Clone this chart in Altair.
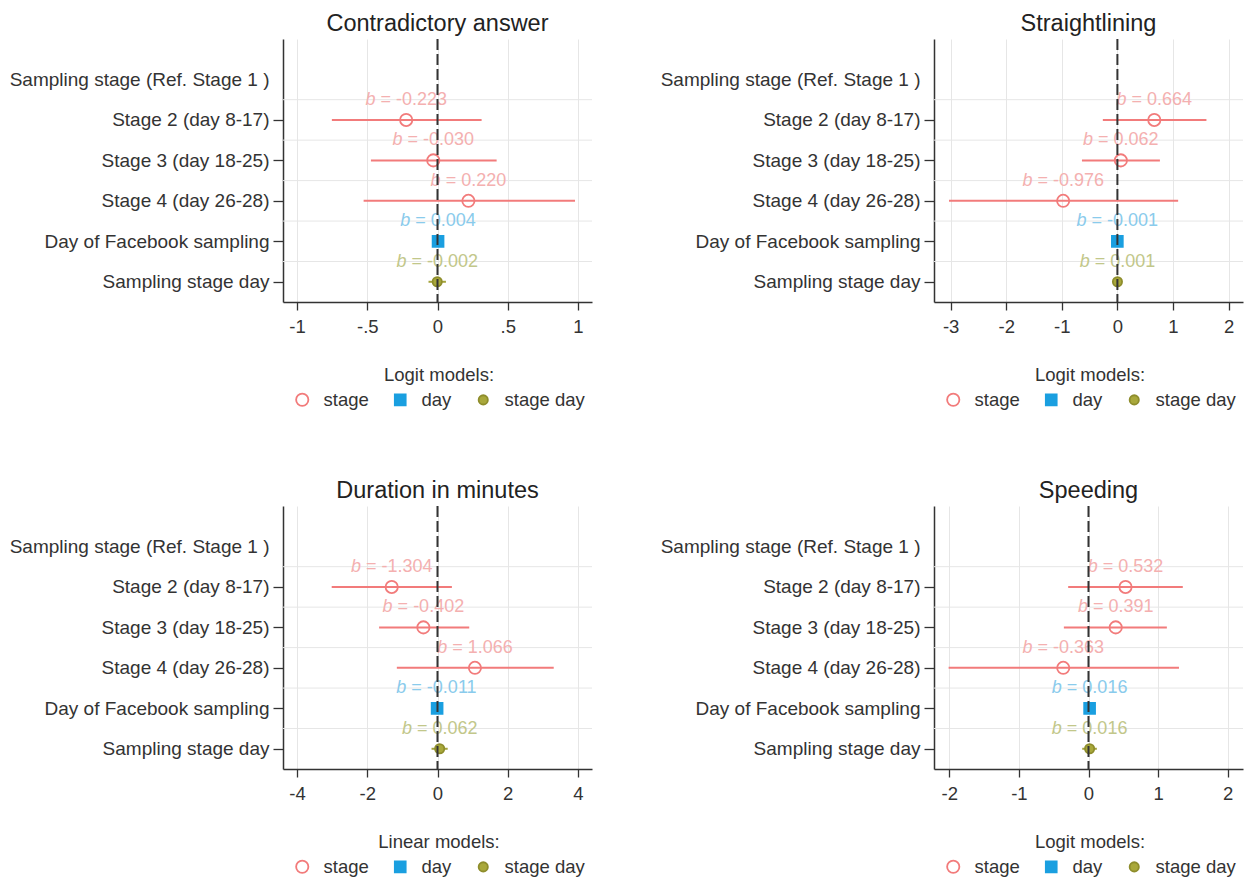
import altair as alt
import pandas as pd

FONT = "Liberation Sans"

panel_titles = ["Contradictory answer", "Straightlining", "Duration in minutes", "Speeding"]
legend_titles = ["Logit models:", "Logit models:", "Linear models:", "Logit models:"]
row_labels = ["Sampling stage (Ref. Stage 1 )", "Stage 2 (day 8-17)", "Stage 3 (day 18-25)",
              "Stage 4 (day 26-28)", "Day of Facebook sampling", "Sampling stage day"]
series_names = ["stage", "day", "stage day"]
coef_rows = [2, 3, 4, 5, 6]
coef_series = ["stage", "stage", "stage", "day", "stage day"]

b_contra = [-0.223, -0.030, 0.220, 0.004, -0.002]
lo_contra = [-0.752, -0.474, -0.526, -0.006, -0.064]
hi_contra = [0.314, 0.421, 0.979, 0.014, 0.060]

b_straight = [0.664, 0.062, -0.976, -0.001, 0.001]
lo_straight = [-0.262, -0.638, -3.030, -0.020, -0.030]
hi_straight = [1.602, 0.765, 1.093, 0.018, 0.032]

b_duration = [-1.304, -0.402, 1.066, -0.011, 0.062]
lo_duration = [-3.013, -1.663, -1.158, -0.060, -0.170]
hi_duration = [0.410, 0.904, 3.310, 0.040, 0.290]

b_speed = [0.532, 0.391, -0.363, 0.016, 0.016]
lo_speed = [-0.292, -0.354, -2.010, -0.004, -0.090]
hi_speed = [1.355, 1.126, 1.300, 0.036, 0.120]

x_ticks = [[-1, -0.5, 0, 0.5, 1], [-3, -2, -1, 0, 1, 2], [-4, -2, 0, 2, 4], [-2, -1, 0, 1, 2]]
x_domains = [[-1.1, 1.1], [-3.3, 2.26], [-4.4, 4.4], [-2.22, 2.22]]
grid_rows = [1.5, 2.5, 3.5, 4.5, 5.5]

ci_colors = {"stage": "#F27B7B", "day": "#1A9FE0", "stage day": "#A3A23A"}
text_colors = {"stage": "#F4B0B0", "day": "#8ACBEC", "stage day": "#C2C78A"}

W, H = 309, 263
TXT = "#333333"
BFS = 18  # coefficient label font size
# Liberation Sans advances (em): "b = -0.000" -> 4.531, "b = 0.000" -> 4.198, "b " -> 0.834
HALF_NEG = -4.531 * BFS / 2
HALF_POS = -4.198 * BFS / 2
B_ADV = 0.834 * BFS


def panel(i, b, lo, hi):
    df = pd.DataFrame({"row": coef_rows, "series": coef_series, "b": b, "lo": lo, "hi": hi})
    df["rest"] = [f"= {v:.3f}" for v in b]

    xscale = alt.Scale(domain=x_domains[i], nice=False, zero=False)
    yscale = alt.Scale(domain=[0, 6.5], reverse=True, nice=False, zero=False)

    label_expr = "[" + ",".join("'" + s + "'" for s in row_labels) + "][datum.value - 1]"
    yaxis = alt.Axis(values=[1, 2, 3, 4, 5, 6], labelExpr=label_expr, grid=False, title=None,
                     tickSize=10, labelPadding=4, labelFontSize=19, labelColor=TXT, labelFont=FONT,
                     domainColor=TXT, domainWidth=1.5, tickWidth=1.3,
                     tickColor={"condition": {"test": "datum.value == 1", "value": "transparent"},
                                "value": TXT},
                     minExtent=275, maxExtent=275, labelLimit=400)
    xaxis = alt.Axis(values=x_ticks[i],
                     labelExpr="datum.value == 0.5 ? '.5' : datum.value == -0.5 ? '-.5' : '' + datum.value",
                     grid=True, gridColor="#E6E6E6", gridWidth=1, title=None, tickSize=8,
                     labelPadding=7, labelFontSize=18.5, labelColor=TXT, labelFont=FONT,
                     domainColor=TXT, domainWidth=1.5, tickColor=TXT, tickWidth=1.3,
                     labelFlush=False)

    leg = alt.Legend(title=legend_titles[i], orient="none", legendX=10, legendY=327,
                     direction="horizontal", titleAnchor="middle", titleFontSize=18.5,
                     titleFontWeight="normal", titleColor=TXT, titleFont=FONT,
                     labelFontSize=18.5, labelColor=TXT, labelFont=FONT, symbolStrokeWidth=1.8,
                     labelOffset=12, columnPadding=22, titlePadding=6, padding=0)

    def X(field):
        return alt.X(field, scale=xscale, axis=xaxis)

    def Y(field):
        return alt.Y(field, scale=yscale, axis=yaxis)

    hgrid = alt.Chart(pd.DataFrame({"g": grid_rows})).mark_rule(
        color="#E6E6E6", strokeWidth=1).encode(y=Y("g:Q"))
    layers = [hgrid]

    for s in series_names:
        layers.append(
            alt.Chart(df).transform_filter(alt.datum.series == s).mark_rule(
                color=ci_colors[s], strokeWidth=2).encode(
                x=X("lo:Q"), x2="hi:Q", y=Y("row:Q")))

    pts = alt.Chart(df).mark_point(opacity=1, strokeWidth=1.8).encode(
        x=X("b:Q"),
        y=Y("row:Q"),
        stroke=alt.Stroke("series:N", scale=alt.Scale(domain=series_names,
                          range=["#F27B7B", "#1A9FE0", "#8E8D2C"]), legend=leg),
        fill=alt.Fill("series:N", scale=alt.Scale(domain=series_names,
                      range=["transparent", "#1A9FE0", "#A9A83B"]), legend=leg),
        shape=alt.Shape("series:N", scale=alt.Scale(domain=series_names,
                        range=["circle", "square", "circle"]), legend=leg),
        size=alt.Size("series:N", scale=alt.Scale(domain=series_names,
                      range=[150, 85, 150]), legend=leg),
    )
    layers.append(pts)

    for s in series_names:
        for neg, half in ((True, HALF_NEG), (False, HALF_POS)):
            test = "datum.b < 0" if neg else "datum.b >= 0"
            base = (alt.Chart(df).transform_filter(alt.datum.series == s)
                    .transform_filter(test)
                    .transform_calculate(ylab="datum.row - 0.5"))
            layers.append(
                base.mark_text(fontSize=BFS, font=FONT, fontStyle="italic", baseline="middle",
                               align="left", dx=half, color=text_colors[s], text="b")
                .encode(x=X("b:Q"), y=Y("ylab:Q")))
            layers.append(
                base.mark_text(fontSize=BFS, font=FONT, baseline="middle", align="left",
                               dx=half + B_ADV, color=text_colors[s])
                .encode(x=X("b:Q"), y=Y("ylab:Q"), text="rest:N"))

    zero = alt.Chart(pd.DataFrame({"z": [0]})).mark_rule(
        strokeDash=[11, 4], color="#333333", strokeWidth=2).encode(x=X("z:Q"))
    layers.append(zero)

    return alt.layer(*layers).properties(
        width=W, height=H,
        title=alt.TitleParams(panel_titles[i], fontSize=23.5, fontWeight="normal", font=FONT,
                              color="#222222", anchor="middle", frame="group", offset=3))


res = dict(stroke="independent", fill="independent", shape="independent", size="independent")

p0 = panel(0, b_contra, lo_contra, hi_contra)
p1 = panel(1, b_straight, lo_straight, hi_straight)
p2 = panel(2, b_duration, lo_duration, hi_duration)
p3 = panel(3, b_speed, lo_speed, hi_speed)

row1 = alt.hconcat(p0, p1, spacing=66).resolve_scale(**res).resolve_legend(**res)
row2 = alt.hconcat(p2, p3, spacing=66).resolve_scale(**res).resolve_legend(**res)

chart = (alt.vconcat(row1, row2, spacing=68)
         .resolve_scale(**res).resolve_legend(**res)
         .properties(padding={"left": 0, "top": 3, "right": 0, "bottom": 0})
         .configure(font=FONT, background="white")
         .configure_view(stroke=None))

chart.save("out.html", embed_options={"renderer": "svg", "actions": False})
